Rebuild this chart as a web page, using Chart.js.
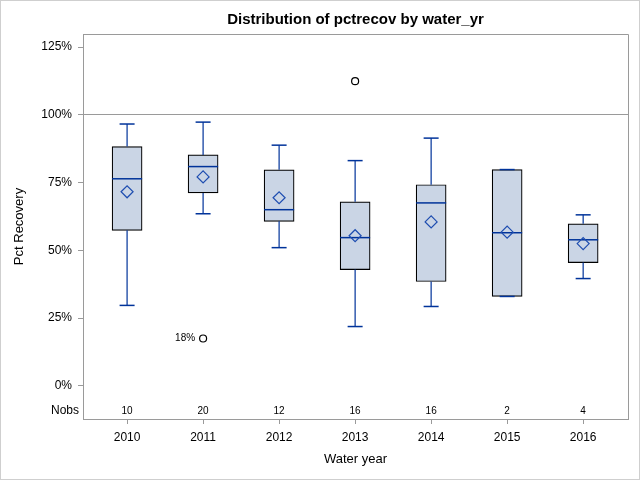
<!DOCTYPE html>
<html>
<head>
<meta charset="utf-8">
<script src="https://cdn.jsdelivr.net/npm/chart.js@4/dist/chart.umd.min.js"></script>
<style>
  html, body { margin: 0; padding: 0; background: #fff; }
  #wrap { width: 640px; height: 480px; }
</style>
</head>
<body>
<div id="wrap"><canvas id="chart"></canvas></div>
<script>
// box plot statistics (percent)
const years = [2010, 2011, 2012, 2013, 2014, 2015, 2016];
const nobs = [10, 20, 12, 16, 16, 2, 4];
const whiskerLow = [29.7, 63.5, 51.0, 21.9, 29.3, 33.0, 39.6];
const q1 = [57.4, 71.2, 60.7, 42.9, 38.5, 33.0, 45.5];
const median = [76.4, 80.9, 65.0, 54.7, 67.5, 56.5, 53.9];
const q3 = [88.3, 85.2, 79.7, 67.9, 74.2, 79.8, 59.8];
const whiskerHigh = [96.6, 97.3, 88.8, 83.1, 91.4, 79.8, 63.1];
const means = [71.6, 77.1, 69.4, 55.4, 60.5, 56.7, 52.5];
const outlierYears = [2011, 2013];
const outlierValues = [17.5, 112.4];
const outlierLabels = ['18%', ''];
const yTicks = [0, 25, 50, 75, 100, 125];

const FONT = "'Liberation Sans', Arial, sans-serif";
const LINE_BLUE = '#00339A';
const FILL = '#CAD5E5';
const AXIS_GRAY = '#9A9A9A';
const NOBS_Y = -9.3;

// whisker segments: low->q1 and q3->high, separated by gaps
const whiskerPts = [];
years.forEach((yr, i) => {
    whiskerPts.push({ x: yr, y: whiskerLow[i] }, { x: yr, y: q1[i] }, { x: yr, y: NaN });
    whiskerPts.push({ x: yr, y: q3[i] }, { x: yr, y: whiskerHigh[i] }, { x: yr, y: NaN });
});

const capPts = [];
years.forEach((yr, i) => {
    capPts.push({ x: yr, y: whiskerLow[i] }, { x: yr, y: whiskerHigh[i] });
});

// Nobs row, outlier labels and frames
const boxExtras = {
    id: 'boxExtras',
    beforeDraw(chart) {
        const ctx = chart.ctx;
        ctx.save();
        ctx.fillStyle = '#fff';
        ctx.fillRect(0, 0, chart.width, chart.height);
        ctx.strokeStyle = '#CFCFCF';
        ctx.lineWidth = 1;
        ctx.strokeRect(0.5, 0.5, chart.width - 1, chart.height - 1);
        ctx.restore();
    },
    afterDraw(chart) {
        const ctx = chart.ctx;
        const a = chart.chartArea;
        const xs = chart.scales.x, ys = chart.scales.y;
        ctx.save();
        ctx.strokeStyle = AXIS_GRAY;
        ctx.lineWidth = 1;
        ctx.beginPath();
        ctx.moveTo(Math.round(a.left) + 0.5, Math.round(a.top) + 0.5);
        ctx.lineTo(Math.round(a.right) + 0.5, Math.round(a.top) + 0.5);
        ctx.lineTo(Math.round(a.right) + 0.5, Math.round(a.bottom) + 0.5);
        ctx.stroke();

        ctx.fillStyle = '#000';
        ctx.textBaseline = 'middle';
        const ny = ys.getPixelForValue(NOBS_Y);
        ctx.font = '10px ' + FONT;
        ctx.textAlign = 'center';
        years.forEach((yr, i) => {
            ctx.fillText(String(nobs[i]), xs.getPixelForValue(yr), ny);
        });
        ctx.font = '12px ' + FONT;
        ctx.textAlign = 'right';
        ctx.fillText('Nobs', a.left - 4, ny);

        ctx.font = '10px ' + FONT;
        outlierYears.forEach((yr, i) => {
            if (!outlierLabels[i]) return;
            ctx.fillText(outlierLabels[i], xs.getPixelForValue(yr) - 8, ys.getPixelForValue(outlierValues[i]));
        });
        ctx.restore();
    }
};

new Chart(document.getElementById('chart'), {
    type: 'bar',
    data: {
        datasets: [
            {
                type: 'scatter',
                label: 'Mean',
                data: years.map((yr, i) => ({ x: yr, y: means[i] })),
                pointStyle: 'rectRot',
                pointRadius: 6,
                borderColor: '#1E4DB0',
                backgroundColor: 'rgba(0,0,0,0)',
                borderWidth: 1.2,
                order: 1
            },
            {
                type: 'scatter',
                label: 'Outliers',
                data: outlierYears.map((yr, i) => ({ x: yr, y: outlierValues[i] })),
                pointStyle: 'circle',
                pointRadius: 3.5,
                borderColor: '#000',
                backgroundColor: 'rgba(0,0,0,0)',
                borderWidth: 1.2,
                order: 1
            },
            {
                type: 'scatter',
                label: 'Median',
                data: years.map((yr, i) => ({ x: yr, y: median[i] })),
                pointStyle: 'line',
                pointRadius: 15,
                borderColor: LINE_BLUE,
                borderWidth: 1.5,
                order: 2
            },
            {
                type: 'scatter',
                label: 'Caps',
                data: capPts,
                pointStyle: 'line',
                pointRadius: 7.5,
                borderColor: LINE_BLUE,
                borderWidth: 1.5,
                order: 2
            },
            {
                type: 'line',
                label: 'Whiskers',
                data: whiskerPts,
                borderColor: LINE_BLUE,
                borderWidth: 1.2,
                pointRadius: 0,
                spanGaps: false,
                fill: false,
                order: 3
            },
            {
                type: 'bar',
                label: 'Box',
                data: years.map((yr, i) => ({ x: yr, y: [q1[i], q3[i]] })),
                backgroundColor: FILL,
                borderColor: '#000',
                borderWidth: 1.2,
                borderSkipped: false,
                barThickness: 30,
                grouped: false,
                order: 4
            }
        ]
    },
    options: {
        responsive: true,
        maintainAspectRatio: false,
        animation: false,
        layout: { autoPadding: false, padding: { left: 8, right: 12, top: 0, bottom: 10 } },
        plugins: {
            legend: { display: false },
            tooltip: { enabled: false },
            title: {
                display: true,
                fullSize: false,
                text: 'Distribution of pctrecov by water_yr',
                color: '#000',
                font: { family: FONT, size: 15, weight: 'bold' },
                padding: { top: 11, bottom: 5 }
            }
        },
        scales: {
            x: {
                type: 'linear',
                offset: false,
                min: 2009.42,
                max: 2016.59,
                afterBuildTicks: (scale) => { scale.ticks = years.map(v => ({ value: v })); },
                afterFit: (scale) => {
                    scale.height = 51;
                    scale.paddingLeft = 0;
                    scale.paddingRight = 0;
                },
                ticks: {
                    color: '#000',
                    font: { family: FONT, size: 12 },
                    padding: 6,
                    callback: (v) => String(v)
                },
                grid: { offset: false, drawOnChartArea: false, drawTicks: true, tickLength: 5, tickColor: AXIS_GRAY },
                border: { color: AXIS_GRAY },
                title: {
                    display: true,
                    text: 'Water year',
                    color: '#000',
                    font: { family: FONT, size: 13 },
                    padding: { top: 4, bottom: 3 }
                }
            },
            y: {
                min: -12.2,
                max: 129.8,
                afterBuildTicks: (scale) => { scale.ticks = yTicks.map(v => ({ value: v })); },
                afterFit: (scale) => {
                    scale.width = 75;
                    scale.paddingTop = 0;
                    scale.paddingBottom = 0;
                },
                ticks: {
                    color: '#000',
                    font: { family: FONT, size: 12 },
                    padding: 6,
                    callback: (v) => v + '%'
                },
                grid: {
                    color: (c) => (c.tick && c.tick.value === 100 ? AXIS_GRAY : 'rgba(0,0,0,0)'),
                    drawTicks: true,
                    tickLength: 5,
                    tickColor: AXIS_GRAY
                },
                border: { color: AXIS_GRAY },
                title: {
                    display: true,
                    text: 'Pct Recovery',
                    color: '#000',
                    font: { family: FONT, size: 13 },
                    padding: { top: 4, bottom: 4 }
                }
            }
        }
    },
    plugins: [boxExtras]
});
</script>
</body>
</html>
